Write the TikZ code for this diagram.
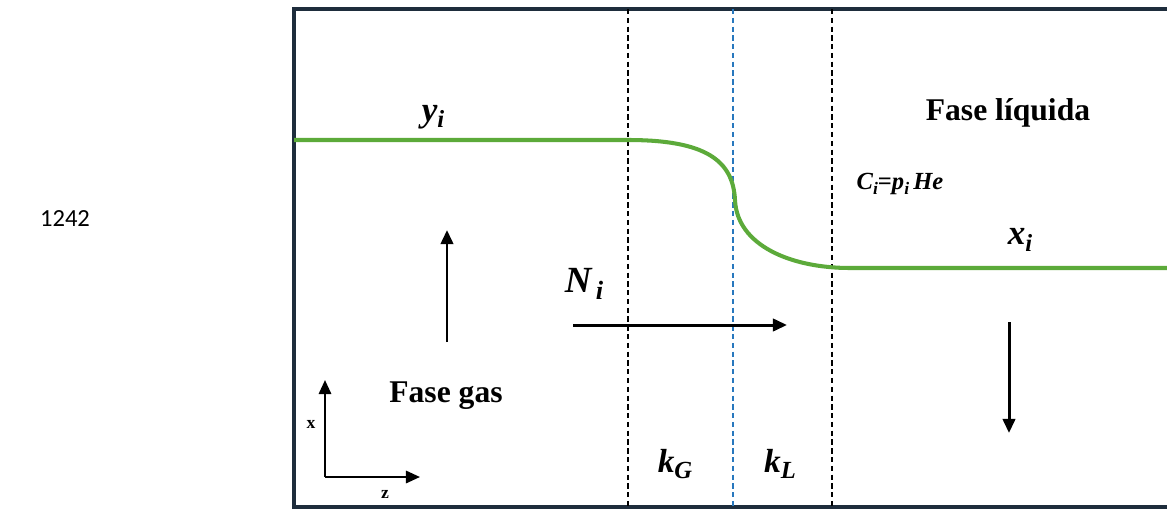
\documentclass[tikz,border=0pt]{standalone}
\usepackage{fontspec}
\setmainfont{Liberation Serif}
\newfontfamily\calib{Carlito}
\usepackage{tikz}
\usetikzlibrary{positioning}
\usetikzlibrary{calc,arrows.meta}
\definecolor{boxnavy}{RGB}{30,45,60}
\definecolor{profgreen}{RGB}{92,170,58}
\definecolor{ifblue}{RGB}{40,120,190}
% bold italic symbol with subscript, in text fonts
\newcommand{\bsub}[3]{{\bfseries\itshape #1\raisebox{-0.4ex}{\fontsize{#3}{#3}\selectfont #2}}}

\begin{document}
\begin{tikzpicture}[x=0.02cm, y=-0.02cm,
phaselbl/.style={font=\fontsize{18}{21}\selectfont\bfseries, inner sep=0pt},
mathlbl/.style={font=\fontsize{20}{23}\selectfont, inner sep=0pt},
axlbl/.style={font=\fontsize{10}{12}\selectfont\bfseries, inner sep=0pt},
filmline/.style={densely dashed, line width=0.7pt},
flowarrow/.style={line width=1.7pt, -{Triangle[length=8pt, width=7pt]}},
profile/.style={profgreen, line width=2.3pt}
]
\useasboundingbox (0,0) rectangle (1167,508);
%Frame
\draw[boxnavy, line width=1.8pt] (1170,9) -- (294,9) -- (294,507) -- (1170,507);
%Film boundaries
\coordinate (G1) at (628,9);  \coordinate (G2) at (628,507);
\coordinate (I1) at (733,9);  \coordinate (I2) at (733,507);
\coordinate (L1) at (832,9);  \coordinate (L2) at (832,507);
\draw[filmline] (G1) -- (G2);
\draw[filmline, ifblue] (I1) -- (I2);
\draw[filmline] (L1) -- (L2);
%Nodes
\node (pg) at (65,219) {\calib\fontsize{14}{17}\selectfont 1242};
\node[mathlbl] (yi) at (433,117) {\bsub{y}{i}{14}};
\node[mathlbl] (xi) at (1020,240) {\bsub{x}{i}{14}};
\node[mathlbl, font=\fontsize{21}{24}\selectfont] (Ni) at (584,284) {\bsub{N}{\,i}{15}};
\node[phaselbl] (liq) at (1008,113) {Fase líquida};
\node[phaselbl] (gas) at (446,396) {Fase gas};
\node[font=\fontsize{14}{17}\selectfont, inner sep=0pt] (henry) at (900,184)
  {\bsub{C}{i}{10}\textbf{=}\bsub{p}{i}{10}\,\bsub{He}{}{10}};
\node[mathlbl, font=\fontsize{19}{22}\selectfont] (kG) at (675,464) {\bsub{k}{G}{14}};
\node[mathlbl, font=\fontsize{19}{22}\selectfont] (kL) at (780,464) {\bsub{k}{L}{14}};
\node[axlbl] (ax) at (311,424) {x};
\node[axlbl] (az) at (385,494) {z};
%Profile
\coordinate (P0) at (294,140);
\coordinate (P1) at (628,140);
\coordinate (P2) at (735,200);
\coordinate (P3) at (850,268);
\coordinate (P4) at (1170,268);
\draw[profile] (P0) -- (P1) .. controls (705,140) and (733,160) .. (P2)
  .. controls (737,245) and (790,268) .. (P3) -- (P4);
%Arrows
\coordinate (up1) at (447,342); \coordinate (up2) at (447,230);
\coordinate (n1) at (573,325);  \coordinate (n2) at (787,325);
\coordinate (dn1) at (1009,322); \coordinate (dn2) at (1009,433);
\draw[flowarrow] (up1) -- (up2);
\draw[flowarrow] (n1) -- (n2);
\draw[flowarrow] (dn1) -- (dn2);
%Axes
\coordinate (O) at (325,477);
\coordinate (Ox) at (325,380);
\coordinate (Oz) at (420,477);
\draw[flowarrow, line width=1.3pt] (O) -- (Ox);
\draw[flowarrow, line width=1.3pt] (O) -- (Oz);
\end{tikzpicture}
\end{document}
